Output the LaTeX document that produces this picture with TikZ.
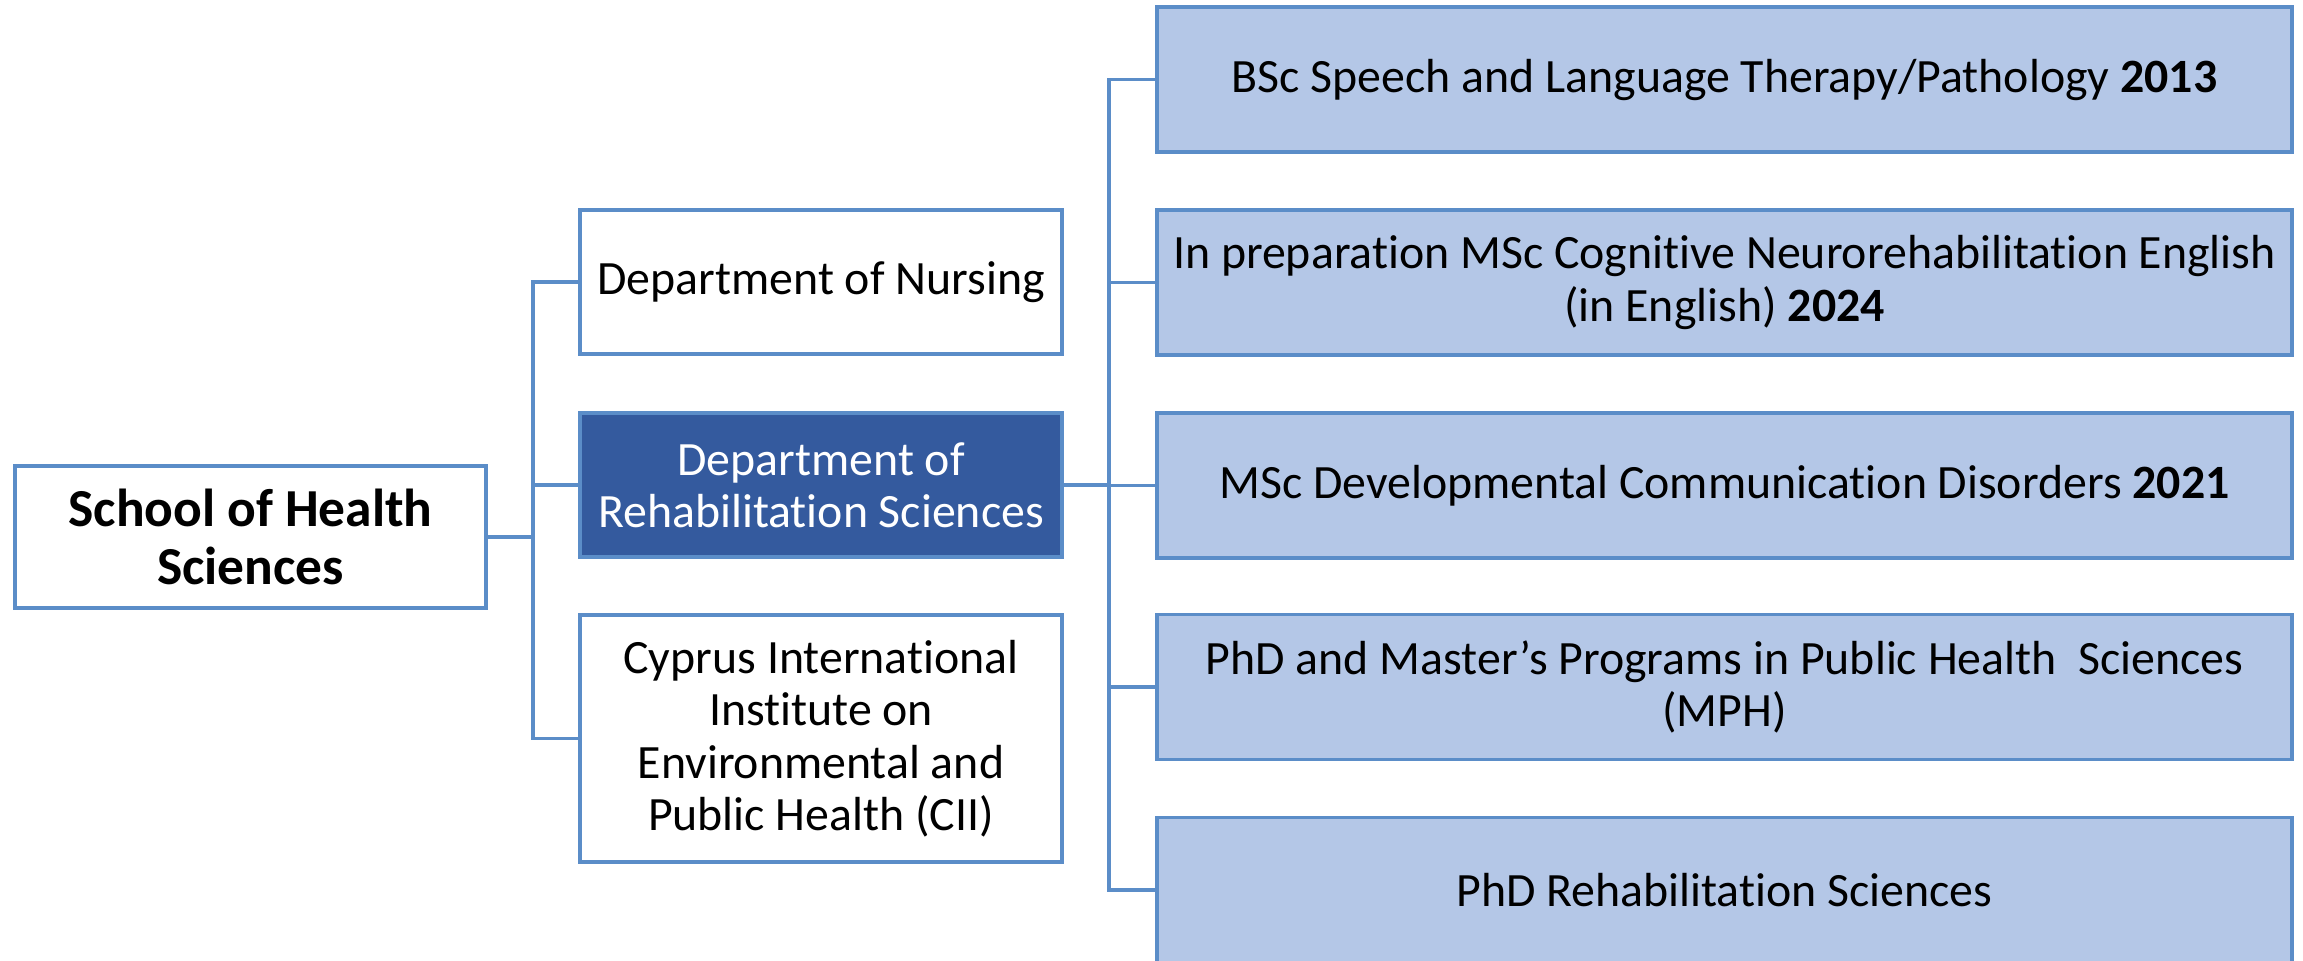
\documentclass[tikz,border=0pt]{standalone}
\usepackage{fontspec}
\setmainfont{Carlito}[Ligatures=NoCommon]
\definecolor{edgeblue}{HTML}{5B8DC8}
\definecolor{darkfill}{HTML}{345A9E}
\definecolor{lightfill}{HTML}{B4C7E7}
\begin{document}
\begin{tikzpicture}[x=0.01cm,y=-0.01cm,
  box/.style={draw=edgeblue,line width=0.9pt,inner sep=0pt,align=center,
    font=\fontsize{13.6pt}{14.9pt}\selectfont},
  whitebox/.style={box,fill=white},
  darkbox/.style={box,fill=darkfill,text=white},
  progbox/.style={box,fill=lightfill,minimum width=1135*0.01cm,minimum height=145*0.01cm},
  link/.style={draw=edgeblue,line width=0.9pt}]
\useasboundingbox (0,0) rectangle (2303,960);
\node[whitebox,minimum width=471*0.01cm,minimum height=142*0.01cm,
  font=\fontsize{15.2pt}{16.6pt}\selectfont\bfseries] (school) at (250.5,537)
  {School of Health\\Sciences};
\node[whitebox,minimum width=482*0.01cm,minimum height=144*0.01cm] (nursing) at (821,282)
  {Department of Nursing};
\node[darkbox,minimum width=482*0.01cm,minimum height=144*0.01cm] (rehab) at (821,485)
  {Department of\\Rehabilitation Sciences};
\node[whitebox,minimum width=482*0.01cm,minimum height=247*0.01cm] (cii) at (821,738.5)
  {Cyprus International\\Institute on\\Environmental and\\Public Health (CII)};
\node[progbox] (p1) at (1724.5,79.5) {BSc Speech and Language Therapy/Pathology \textbf{2013}};
\node[progbox] (p2) at (1724.5,282.5) {In preparation MSc Cognitive Neurorehabilitation English\\(in English) \textbf{2024}};
\node[progbox] (p3) at (1724.5,485.5) {MSc Developmental Communication Disorders \textbf{2021}};
\node[progbox] (p4) at (1724.5,687) {PhD and Master’s Programs in Public Health\ \ Sciences\\(MPH)};
\node[progbox] (p5) at (1724.5,890) {PhD Rehabilitation Sciences};
\coordinate (t1) at (533,537);
\coordinate (t2) at (1109,485);
\draw[link] (school.east) -- (t1);
\draw[link] (t1) |- (nursing.west);
\draw[link] (t1) |- (rehab.west);
\draw[link] (t1) |- (cii.west);
\draw[link] (rehab.east) -- (t2);
\draw[link] (t2) |- (p1.west);
\draw[link] (t2) |- (p2.west);
\draw[link] (t2) |- (p3.west);
\draw[link] (t2) |- (p4.west);
\draw[link] (t2) |- (p5.west);
\end{tikzpicture}
\end{document}
